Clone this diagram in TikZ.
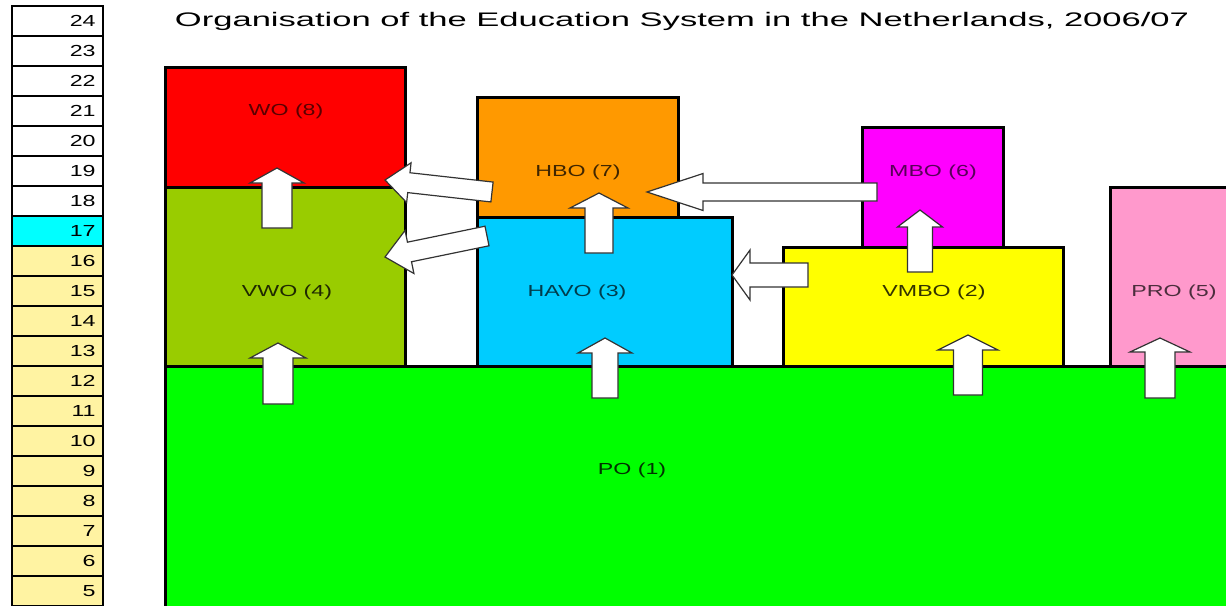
\documentclass[tikz,border=0pt]{standalone}
\usepackage{fontspec}
\setmainfont{Liberation Sans}
\usepackage{graphicx}
\usetikzlibrary{calc}
\definecolor{wored}{HTML}{FF0000}
\definecolor{vwogreen}{HTML}{99CC00}
\definecolor{hboorange}{HTML}{FF9900}
\definecolor{havoblue}{HTML}{00CCFF}
\definecolor{mbomagenta}{HTML}{FF00FF}
\definecolor{vmboyellow}{HTML}{FFFF00}
\definecolor{propink}{HTML}{FF99CC}
\definecolor{pogreen}{HTML}{00FF00}
\definecolor{agecyan}{HTML}{00FFFF}
\definecolor{ageyellow}{HTML}{FFF3A2}
\newcommand{\wide}[1]{\scalebox{1.45}[1]{#1}}
\tikzstyle{block} = [draw=black, line width=1.5pt]
\tikzstyle{agebox} = [draw=black, line width=1.2pt]
\tikzstyle{agenum} = [inner sep=0pt, font=\fontsize{8}{9}\selectfont]
\tikzstyle{lab} = [inner sep=0pt, font=\fontsize{8}{9}\selectfont]
\tikzstyle{bar} = [draw=black!80, fill=white, line width=0.6pt, line join=miter]
% block arrow: shaft half width, head half width, head length, from, to
\newcommand{\barrow}[5]{%
  \coordinate (hb) at ($(#5)!#3!(#4)$);
  \draw[bar] ($(#4)!#1!90:(#5)$) -- ($(hb)!#1!-90:(#4)$) -- ($(hb)!#2!-90:(#4)$) -- (#5)
    -- ($(hb)!#2!90:(#4)$) -- ($(hb)!#1!90:(#4)$) -- ($(#4)!#1!-90:(#5)$) -- cycle;}
\begin{document}
\begin{tikzpicture}[x=0.5pt, y=-0.5pt]
				\useasboundingbox (0,0) rectangle (1226,605);
				\clip (0,0) rectangle (1226,605);
				% ages
				\foreach \a in {5,...,24}{
					\pgfmathsetmacro{\ty}{6+(24-\a)*30}
					\ifnum\a=17 \def\agefill{agecyan}\else\ifnum\a<17 \def\agefill{ageyellow}\else\def\agefill{white}\fi\fi
					\draw[agebox, fill=\agefill] (12,\ty) rectangle ++(91,30);
					\node (age\a) [agenum, anchor=east] at (96,\ty+15) {\wide{\a}};
				}
				\node (title) at (682,21) {\resizebox{507pt}{\height}{\fontsize{9.8}{12}\selectfont Organisation of the Education System in the Netherlands, 2006/07}};
				% blocks
				\draw[block, fill=pogreen] (165,366) rectangle (1240,620);
				\draw[block, fill=vwogreen] (165,187) rectangle (405,366);
				\draw[block, fill=wored] (165,67) rectangle (405,187);
				\draw[block, fill=havoblue] (477,217) rectangle (732,366);
				\draw[block, fill=hboorange] (477,97) rectangle (678,217);
				\draw[block, fill=vmboyellow] (783,247) rectangle (1063,366);
				\draw[block, fill=mbomagenta] (862,127) rectangle (1003,247);
				\draw[block, fill=propink] (1110,187) rectangle (1240,366);
				\node (wo) [lab, text=wored!35!black] at (286,111) {\wide{WO (8)}};
				\node (vwo) [lab, text=vwogreen!20!black] at (287,292) {\wide{VWO (4)}};
				\node (hbo) [lab, text=hboorange!25!black] at (578,172) {\wide{HBO (7)}};
				\node (havo) [lab, text=havoblue!30!black] at (577,292) {\wide{HAVO (3)}};
				\node (mbo) [lab, text=mbomagenta!35!black] at (933,172) {\wide{MBO (6)}};
				\node (vmbo) [lab, text=vmboyellow!20!black] at (934,292) {\wide{VMBO (2)}};
				\node (pro) [lab, text=propink!30!black] at (1174,292) {\wide{PRO (5)}};
				\node (po) [lab, text=pogreen!20!black] at (632,470) {\wide{PO (1)}};
				% arrow ends
				\coordinate (vwo-wo-s) at (277,228);  \coordinate (vwo-wo-e) at (277,168);
				\coordinate (po-vwo-s) at (278,404);  \coordinate (po-vwo-e) at (278,343);
				\coordinate (havo-hbo-s) at (599,253); \coordinate (havo-hbo-e) at (599,193);
				\coordinate (po-havo-s) at (605,398); \coordinate (po-havo-e) at (605,338);
				\coordinate (vmbo-mbo-s) at (920,272); \coordinate (vmbo-mbo-e) at (920,210);
				\coordinate (po-vmbo-s) at (968,395); \coordinate (po-vmbo-e) at (968,335);
				\coordinate (po-pro-s) at (1160,398); \coordinate (po-pro-e) at (1160,338);
				\coordinate (mbo-hbo-s) at (877,192); \coordinate (mbo-hbo-e) at (647,192);
				\coordinate (vmbo-havo-s) at (808,275); \coordinate (vmbo-havo-e) at (732,275);
				\coordinate (hbo-wo-s) at (492,192);  \coordinate (hbo-wo-e) at (385,180);
				\coordinate (havo-vwo-s) at (487,236); \coordinate (havo-vwo-e) at (385,257);
				% arrows
				\barrow{7.5pt}{13.5pt}{7.5pt}{vwo-wo-s}{vwo-wo-e}
				\barrow{7.5pt}{14pt}{7.5pt}{po-vwo-s}{po-vwo-e}
				\barrow{7pt}{14.5pt}{7.5pt}{havo-hbo-s}{havo-hbo-e}
				\barrow{6.5pt}{13.5pt}{7.5pt}{po-havo-s}{po-havo-e}
				\barrow{6.25pt}{11.25pt}{8.5pt}{vmbo-mbo-s}{vmbo-mbo-e}
				\barrow{7.25pt}{15pt}{7.5pt}{po-vmbo-s}{po-vmbo-e}
				\barrow{7.5pt}{15pt}{7pt}{po-pro-s}{po-pro-e}
				\barrow{4.5pt}{9.25pt}{28pt}{mbo-hbo-s}{mbo-hbo-e}
				\barrow{6pt}{12.5pt}{9pt}{vmbo-havo-s}{vmbo-havo-e}
				\barrow{5pt}{10pt}{12pt}{hbo-wo-s}{hbo-wo-e}
				\barrow{5pt}{11pt}{12.5pt}{havo-vwo-s}{havo-vwo-e}
\end{tikzpicture}
\end{document}
